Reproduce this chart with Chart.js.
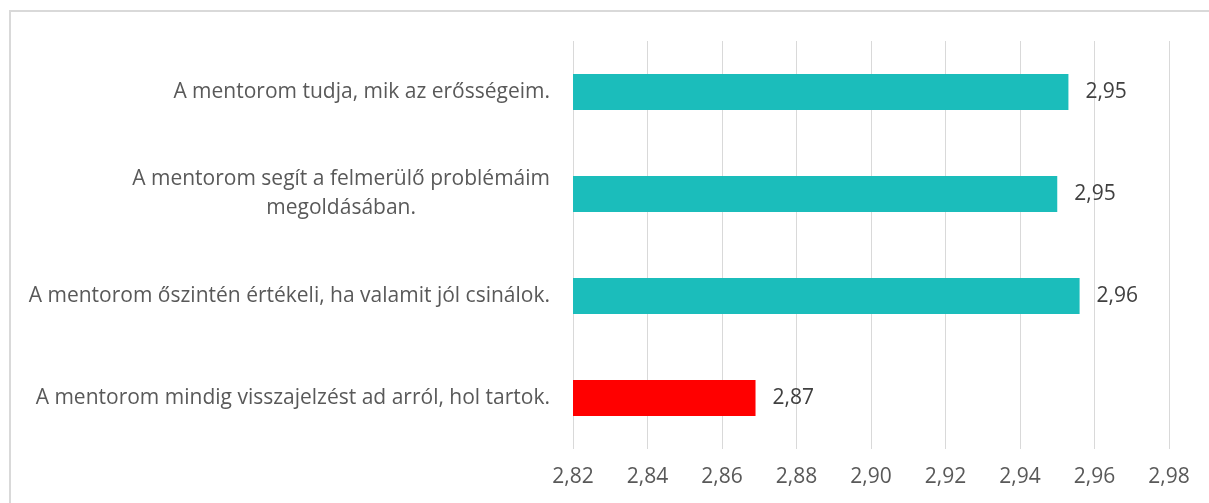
<!DOCTYPE html>
<html>
<head>
<meta charset="utf-8">
<script src="https://cdn.jsdelivr.net/npm/chart.js@4/dist/chart.umd.min.js"></script>
<style>
  html, body { margin: 0; padding: 0; background: #fff; overflow: hidden; }
  #frame { position: absolute; left: 9px; top: 10px; width: 1400px; height: 700px; border: 2px solid #d9d9d9; box-sizing: border-box; }
  #wrap { position: absolute; left: 0; top: 0; width: 1209px; height: 503px; }
</style>
</head>
<body>
<div id="frame"></div>
<div id="wrap"><canvas id="chart" width="1209" height="503"></canvas></div>
<script>
const categories = [
  ['A mentorom tudja, mik az erősségeim.'],
  ['A mentorom segít a felmerülő problémáim', 'megoldásában.'],
  ['A mentorom őszintén értékeli, ha valamit jól csinálok.'],
  ['A mentorom mindig visszajelzést ad arról, hol tartok.']
]
const values = [2.953, 2.950, 2.956, 2.869]
const barColors = ['#1bbdbb', '#1bbdbb', '#1bbdbb', '#ff0000']
const xMin = 2.82
const xMax = 2.98
const xStep = 0.02

const FONT = '"Open Sans", "Noto Sans", sans-serif'
const fmt = v => Number(v).toFixed(2).replace('.', ',')

// y-axis labels: right aligned, wrapped lines centred within their own block
const yLabelsPlugin = {
  id: 'yLabels',
  afterDraw(chart) {
    const ctx = chart.ctx
    const yScale = chart.scales.y
    const xRight = chart.chartArea.left - 23
    const lineH = 29
    ctx.save()
    ctx.font = '21px ' + FONT
    ctx.fillStyle = '#595959'
    ctx.textBaseline = 'middle'
    ctx.textAlign = 'center'
    categories.forEach((lines, i) => {
      const yc = yScale.getPixelForTick(i)
      const w = Math.max(...lines.map(l => ctx.measureText(l).width))
      const cx = xRight - w / 2
      const y0 = yc - (lines.length - 1) * lineH / 2
      lines.forEach((l, j) => ctx.fillText(l, cx, y0 + j * lineH))
    })
    ctx.restore()
  }
}

// value labels at the end of each bar
const valueLabelsPlugin = {
  id: 'valueLabels',
  afterDatasetsDraw(chart) {
    const ctx = chart.ctx
    const meta = chart.getDatasetMeta(0)
    ctx.save()
    ctx.font = '21px ' + FONT
    ctx.fillStyle = '#404040'
    ctx.textBaseline = 'middle'
    ctx.textAlign = 'left'
    meta.data.forEach((bar, i) => {
      ctx.fillText(fmt(values[i]), bar.x + 17, bar.y)
    })
    ctx.restore()
  }
}

new Chart(document.getElementById('chart'), {
  type: 'bar',
  data: {
    labels: categories,
    datasets: [{
      data: values,
      backgroundColor: barColors,
      borderWidth: 0,
      categoryPercentage: 1,
      barPercentage: 36 / 102
    }]
  },
  options: {
    indexAxis: 'y',
    responsive: false,
    animation: false,
    layout: { padding: { left: 0, top: 41, right: 40, bottom: 0 } },
    plugins: {
      legend: { display: false },
      tooltip: { enabled: false }
    },
    scales: {
      x: {
        min: xMin,
        max: xMax,
        grid: { color: '#d9d9d9', lineWidth: 1, drawTicks: false },
        border: { display: false },
        ticks: {
          stepSize: xStep,
          padding: 15,
          color: '#595959',
          font: { family: FONT, size: 21 },
          callback: v => fmt(v)
        },
        afterFit(scale) { scale.height = 54 }
      },
      y: {
        grid: { display: false },
        border: { display: false },
        ticks: { display: false },
        afterFit(scale) { scale.width = 573 }
      }
    }
  },
  plugins: [yLabelsPlugin, valueLabelsPlugin]
})
</script>
</body>
</html>
